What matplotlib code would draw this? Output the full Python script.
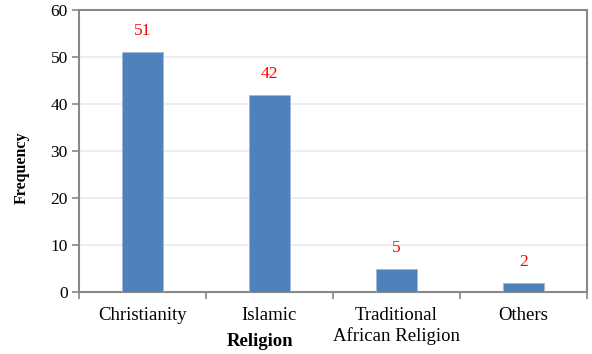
import matplotlib
matplotlib.use("Agg")
import matplotlib.pyplot as plt
import numpy as np

plt.rcParams['font.family'] = ['Liberation Serif', 'DejaVu Serif']

religions = ['Christianity', 'Islamic', 'Traditional\nAfrican Religion', 'Others']
frequency = [51, 42, 5, 2]

fig = plt.figure(figsize=(5.92, 3.54), dpi=100)
ax = fig.add_axes([79/592, 62/354, 508/592, 282/354])

x = np.arange(len(religions))
ax.bar(x, frequency, width=0.33, color='#4F81BD', edgecolor='#9DB8DC',
       linewidth=0.6, zorder=3)

# value labels above the bars
for xi, v in zip(x, frequency):
    ax.annotate(str(v), (xi, v), xytext=(0, 15), textcoords='offset points',
                ha='center', va='center', color='red', fontsize=12.5)

ax.set_xlim(-0.5, 3.5)
ax.set_ylim(0, 60)
ax.set_yticks(range(0, 61, 10))
ax.tick_params(axis='y', labelsize=12.5, length=5, width=1.2, color='#888888', pad=3)

ax.set_xticks(x)
ax.set_xticklabels(religions, fontsize=13.5, linespacing=1.2)
ax.tick_params(axis='x', which='major', length=0, pad=11)
ax.set_xticks(np.arange(-0.5, 4.0, 1.0), minor=True)
ax.tick_params(axis='x', which='minor', length=5, width=1.2, color='#888888')

ax.yaxis.grid(True, color='#EBEBEB', linewidth=1.2, zorder=0)
ax.set_axisbelow(True)
for s in ax.spines.values():
    s.set_color('#888888')
    s.set_linewidth(1.5)

ax.set_ylabel('Frequency', fontsize=11.5, fontweight='bold')
ax.yaxis.set_label_coords(-0.097, 0.44)
ax.set_xlabel('Religion', fontsize=13.5, fontweight='bold')
ax.xaxis.set_label_coords((260 - 79) / 508, -0.147)

fig.savefig('out.png', dpi=100)
